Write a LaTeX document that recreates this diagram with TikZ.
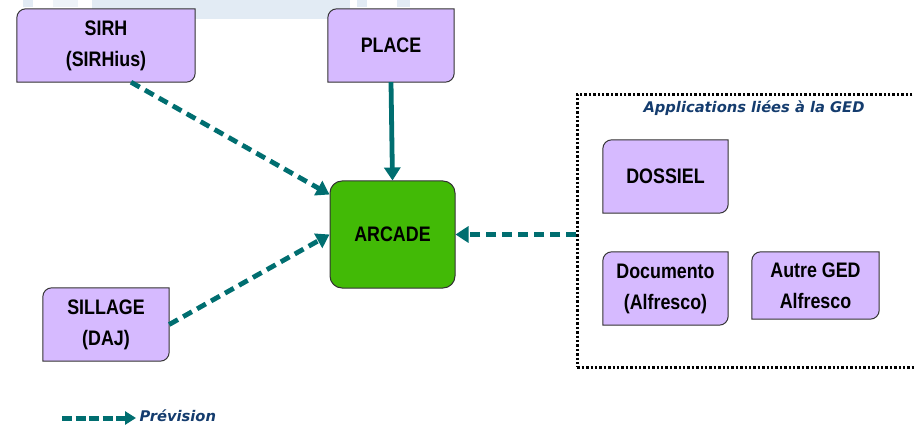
\documentclass[tikz,border=0pt]{standalone}
\usepackage{fontspec}
\newfontfamily\boxfont[FakeStretch=0.85]{Liberation Sans}
\newfontfamily\titlefont{DejaVu Sans}
\usetikzlibrary{arrows.meta,backgrounds}

% box with rounded top-left and bottom-right corners
\newcommand{\diagbox}[1]{%
  \filldraw[appline] (#1.south west) -- ([yshift=-9pt]#1.north west)
    arc[start angle=180,end angle=90,radius=9pt] -- (#1.north east)
    -- ([yshift=9pt]#1.south east)
    arc[start angle=0,end angle=-90,radius=9pt] -- cycle;}

\begin{document}
\begin{tikzpicture}[x=1pt,y=1pt,
  appline/.style={draw=boxline,fill=appviolet,line width=1pt},
  appbox/.style={align=center,inner sep=0pt,
    font=\boxfont\bfseries\fontsize{21}{31}\selectfont},
  plan/.style={plancyan,line width=4.8pt,dash pattern=on 10pt off 6pt,
    -{Triangle[length=13pt,width=16pt]}},
  current/.style={plancyan,line width=4.8pt,-{Triangle[length=13pt,width=16pt]}},
  gedtitle/.style={text=titleblue,font=\titlefont\bfseries\itshape\fontsize{14.7}{17}\selectfont}]
% Define colors
\definecolor{appviolet}{RGB}{214,186,255}
\definecolor{boxline}{RGB}{50,50,50}
\definecolor{arcadegreen}{RGB}{66,186,6}
\definecolor{plancyan}{RGB}{0,110,112}
\definecolor{titleblue}{RGB}{20,60,110}
\definecolor{bandblue}{RGB}{226,235,244}

\useasboundingbox (0,0) rectangle (914,-425);

% Applications
\node[appbox,minimum width=178pt,minimum height=73pt] (sirh) at (106,-45.5) {SIRH\\(SIRHius)};
\node[appbox,minimum width=126pt,minimum height=73pt] (place) at (391,-45.5) {PLACE};
\node[appbox,minimum width=126pt,minimum height=73pt] (sillage) at (106,-324.5) {SILLAGE\\(DAJ)};
\node[appbox,draw=boxline,fill=arcadegreen,line width=1pt,rounded corners=12pt,
  minimum width=125pt,minimum height=107pt] (arcade) at (392.5,-234.5) {ARCADE};

% GED group
\node[draw=black,line width=2.6pt,dash pattern=on 2.4pt off 2pt,anchor=north west,
  minimum width=350pt,minimum height=273pt] (ged) at (576,-93) {};
\node[gedtitle] (gedlabel) at (754,-108) {Applications liées à la GED};
\node[appbox,minimum width=125pt,minimum height=73pt] (dossiel) at (665.5,-176.5) {DOSSIEL};
\node[appbox,minimum width=125pt,minimum height=73pt] (documento) at (665.5,-288.5) {Documento\\(Alfresco)};
\node[appbox,minimum width=127pt,minimum height=67pt] (autre) at (815.5,-285.5) {Autre GED\\Alfresco};

% Background band and box shapes
\begin{scope}[on background layer]
\fill[bandblue] (23,0) rectangle (33,-7);
\fill[bandblue!60] (53,0) rectangle (78,-7);
\fill[bandblue] (92,0) rectangle (350,-19);
\fill[bandblue] (357,0) rectangle (367,-7);
\fill[bandblue] (397,0) rectangle (410,-7);
\foreach \n in {sirh,place,sillage,dossiel,documento,autre} {\diagbox{\n}}
\end{scope}

% Flows
\draw[plan] ([xshift=25pt]sirh.south) -- ([yshift=40pt]arcade.west);
\draw[current] (place.south) -- (arcade.north);
\draw[plan] (sillage.east) -- (arcade.west);
\draw[plan] (ged.west |- arcade.east) -- (arcade.east);

% Legend
\coordinate (legstart) at (62,-418);
\node[gedtitle,anchor=west] (prevision) at (136,-416) {Prévision};
\draw[plancyan,line width=5pt,dash pattern=on 10pt off 3.5pt,
  -{Triangle[length=11pt,width=13pt]}] (legstart) -- (legstart -| prevision.west);
\end{tikzpicture}
\end{document}
